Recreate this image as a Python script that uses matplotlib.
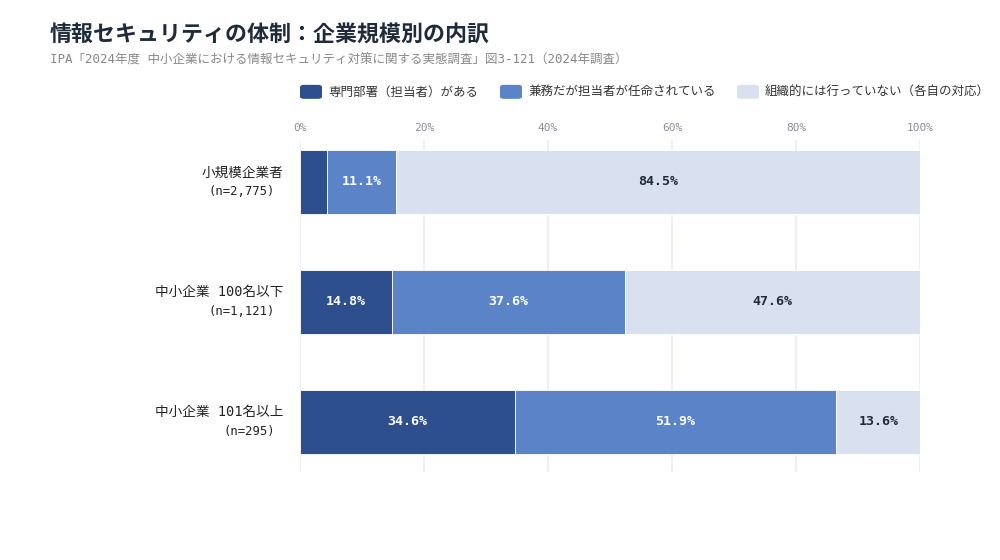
import matplotlib
matplotlib.use("Agg")
import matplotlib.pyplot as plt
from matplotlib.patches import FancyBboxPatch
import numpy as np

plt.rcParams['font.family'] = ['DejaVu Sans Mono', 'Noto Sans CJK JP', 'DejaVu Sans']

categories = ["小規模企業者\n(n=2,775)", "中小企業 100名以下\n(n=1,121)", "中小企業 101名以上\n(n=295)"]
series_names = ["専門部署（担当者）がある", "兼務だが担当者が任命されている", "組織的には行っていない（各自の対応）"]
dedicated = [4.4, 14.8, 34.6]
concurrent = [11.1, 37.6, 51.9]
none_org = [84.5, 47.6, 13.6]
xticks = [0, 20, 40, 60, 80, 100]
xtick_labels = ["0%", "20%", "40%", "60%", "80%", "100%"]

colors = ["#2d4f8e", "#5b84c8", "#d9e1f0"]
text_colors = ["white", "white", "#1f2a3a"]

fig = plt.figure(figsize=(10, 5.6), dpi=100)
ax = fig.add_axes([0.30, 0.157, 0.62, 0.593])

y = np.arange(len(categories))
left = np.zeros(len(categories))
for vals, col, tc in zip([dedicated, concurrent, none_org], colors, text_colors):
    vals = np.array(vals)
    ax.barh(y, vals, left=left, height=0.533, color=col, edgecolor="white", linewidth=0.6, zorder=3)
    for yi, (l, v) in enumerate(zip(left, vals)):
        if v >= 5:
            ax.text(l + v / 2, yi, f"{v:.1f}%", ha="center", va="center", color=tc,
                    fontsize=9.5, fontweight="bold", zorder=4)
    left += vals

ax.set_xlim(0, 100)
ax.set_ylim(2.42, -0.35)
ax.set_xticks(xticks)
ax.set_xticklabels(xtick_labels)
ax.xaxis.tick_top()
ax.tick_params(axis="x", length=0, pad=5, labelsize=8, labelcolor="#8a8f99")
ax.set_yticks(y)
ax.set_yticklabels([])
ax.tick_params(axis="y", length=0)
for yi, c in zip(y, categories):
    l1, l2 = c.split("\n")
    ax.text(-0.027, yi - 0.08, l1, transform=ax.get_yaxis_transform(), ha="right", va="center",
            fontsize=9.8, color="#222222")
    ax.text(-0.04, yi + 0.08, l2, transform=ax.get_yaxis_transform(), ha="right", va="center",
            fontsize=8.8, color="#222222")
ax.grid(axis="x", color="#eceef3", linewidth=1.2, zorder=0)
for s in ax.spines.values():
    s.set_visible(False)

fig.text(0.05, 0.938, "情報セキュリティの体制：企業規模別の内訳", fontsize=15.8, fontweight="bold",
         color="#1f2a3a", va="center", ha="left")
fig.text(0.05, 0.893, "IPA「2024年度 中小企業における情報セキュリティ対策に関する実態調査」図3-121（2024年調査）",
         fontsize=9, color="#888888", va="center", ha="left")

# legend
leg_x = [0.300, 0.500, 0.737]
leg_y = 0.836
for lx, name, col in zip(leg_x, series_names, colors):
    box = FancyBboxPatch((lx, leg_y - 0.0125), 0.022, 0.025, boxstyle="round,pad=0,rounding_size=0.004",
                         transform=fig.transFigure, facecolor=col, edgecolor="none")
    fig.patches.append(box)
    fig.text(lx + 0.028, leg_y, name, fontsize=9, color="#333333", va="center", ha="left")

fig.savefig("out.png", dpi=100)
